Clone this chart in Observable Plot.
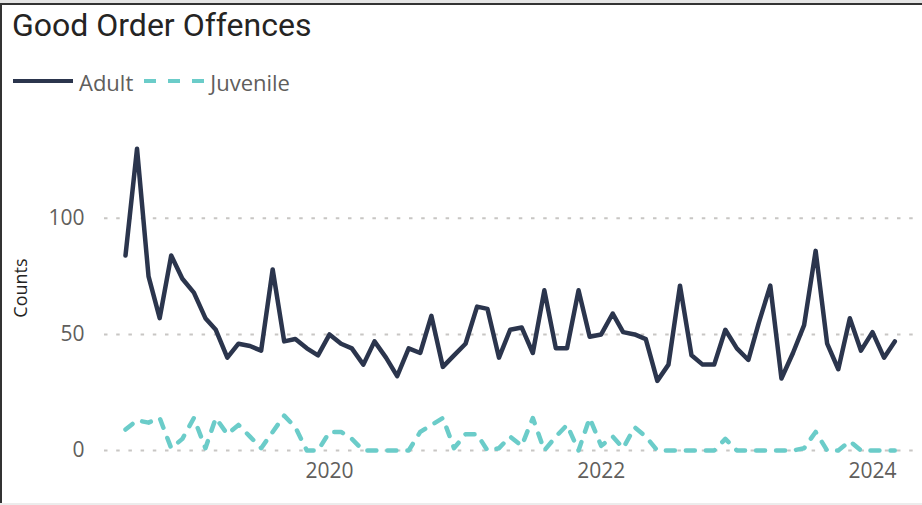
<!DOCTYPE html>
<html>
<head>
<meta charset="utf-8">
<script src="https://cdn.jsdelivr.net/npm/d3@7"></script>
<script src="https://cdn.jsdelivr.net/npm/@observablehq/plot@0.6"></script>
<style>
  html, body { margin: 0; padding: 0; background: #fff; }
  #card { position: relative; width: 922px; height: 505px; overflow: hidden; background: #fff; }
  #topstrip { position: absolute; left: 0; top: 0; width: 922px; height: 3px; background: #e4e4e4; }
  #topborder { position: absolute; left: 0; top: 3px; width: 922px; height: 2px; background: #333; }
  #leftborder { position: absolute; left: 0; top: 3px; width: 2px; height: 502px; background: #333; }
  #bottomstrip { position: absolute; left: 0; top: 503px; width: 922px; height: 2px; background: #ececec; }
  #title { position: absolute; left: 12px; top: 9px; font-family: Roboto, sans-serif; font-size: 32px; line-height: 32px; color: #252423; white-space: nowrap; }
  #legend { position: absolute; left: 13px; top: 71px; height: 22px; display: flex; align-items: flex-start; font-family: "Open Sans", sans-serif; font-size: 22px; line-height: 22px; color: #605e5c; white-space: nowrap; }
  #legend svg { display: block; }
  #legend .lbl { margin-left: 6px; margin-right: 11px; }
  #chart { position: absolute; left: 0; top: 100px; }
  #chart [aria-label="y-axis label"] text { font-size: 18px; fill: #252423; }
</style>
</head>
<body>
<div id="card">
  <div id="topstrip"></div>
  <div id="topborder"></div>
  <div id="leftborder"></div>
  <div id="bottomstrip"></div>
  <div id="title"></div>
  <div id="legend"></div>
  <div id="chart"></div>
</div>
<script>
// ---- data ----
const titleText = "Good Order Offences";
const seriesNames = ["Adult", "Juvenile"];
const seriesColors = ["#2b354d", "#6bccc9"];
const firstMonth = "2018-07-01";
const adult = [84,130,75,57,84,74,68,57,52,40, 46,45,43,78,47,48,44,41,50,46,
               44,37,47,40,32,44,42,58,36,41, 46,62,61,40,52,53,42,69,44,44,
               69,49,50,59,51,50,48,30,37,71, 41,37,37,52,44,39,55,71,31,42,
               54,86,46,35,57,43,51,40,47];
const juvenile = [9,13,12,14,1,5,14,1,14,7, 11,6,1,8,15,10,0,0,8,8,
                  5,0,0,0,0,0,8,11,14,1, 7,7,0,1,6,2,14,0,6,11,
                  0,14,2,6,1,10,6,0,0,0, 0,0,0,5,0,0,0,0,0,0,
                  1,8,0,0,4,0,0,0,0];
const yTicks = [0, 50, 100];
const xTickYears = [2020, 2022, 2024];
const yLabel = "Counts";

// ---- build ----
const start = new Date(firstMonth + "T00:00:00Z");
const months = d3.range(adult.length).map(i => d3.utcMonth.offset(start, i));
const adultData = months.map((m, i) => ({month: m, value: adult[i]}));
const juvData = months.map((m, i) => ({month: m, value: juvenile[i]}));
const xTicks = xTickYears.map(y => new Date(Date.UTC(y, 0, 1)));

document.getElementById("title").textContent = titleText;

// legend
const legend = document.getElementById("legend");
seriesNames.forEach((name, k) => {
  const svgNS = "http://www.w3.org/2000/svg";
  const s = document.createElementNS(svgNS, "svg");
  s.setAttribute("width", 60); s.setAttribute("height", 22);
  const l = document.createElementNS(svgNS, "line");
  l.setAttribute("x1", 0); l.setAttribute("x2", 60);
  l.setAttribute("y1", 10); l.setAttribute("y2", 10);
  l.setAttribute("stroke", seriesColors[k]);
  l.setAttribute("stroke-width", 4);
  if (k === 1) l.setAttribute("stroke-dasharray", "12 12");
  s.appendChild(l);
  legend.appendChild(s);
  const t = document.createElement("span");
  t.className = "lbl"; t.textContent = name;
  legend.appendChild(t);
});

const plot = Plot.plot({
  width: 922,
  height: 405,
  marginLeft: 104,
  marginRight: 6,
  marginTop: 25,
  marginBottom: 55,
  style: {fontFamily: "'Open Sans', sans-serif", fontSize: "21px", color: "#605e5c", background: "transparent", overflow: "visible"},
  x: {type: "utc", domain: [months[0], months[months.length - 1]], insetLeft: 21, insetRight: 21.7},
  y: {domain: [0, 140]},
  marks: [
    Plot.ruleY(yTicks, {stroke: "#c8c6c4", strokeWidth: 2, strokeDasharray: "3.5 8.7"}),
    Plot.axisY(yTicks, {tickSize: 0, tickPadding: 20, label: yLabel, labelAnchor: "center", labelArrow: "none", labelOffset: 90}),
    Plot.axisX(xTicks, {tickSize: 0, tickPadding: 13, tickFormat: d3.utcFormat("%Y"), label: null}),
    Plot.line(juvData, {x: "month", y: "value", stroke: seriesColors[1], strokeWidth: 4.5, strokeDasharray: "9 11", strokeLinecap: "round", strokeLinejoin: "round"}),
    Plot.line(adultData, {x: "month", y: "value", stroke: seriesColors[0], strokeWidth: 4.5, strokeLinecap: "round", strokeLinejoin: "round"})
  ]
});
document.getElementById("chart").appendChild(plot);
</script>
</body>
</html>
